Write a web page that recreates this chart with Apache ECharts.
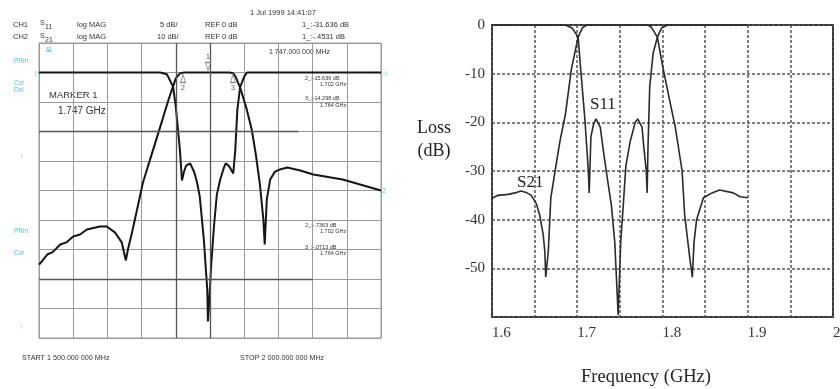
<!DOCTYPE html>
<html>
<head>
<meta charset="utf-8">
<script src="https://cdn.jsdelivr.net/npm/echarts@6/dist/echarts.min.js"></script>
<style>
html, body { margin: 0; padding: 0; background: #fff; }
#chart { width: 840px; height: 389px; }
</style>
</head>
<body>
<div id="chart"></div>
<script>
// left panel: network analyzer trace, 1.5 - 2.0 GHz
var leftS11Freq = [1.500, 1.677, 1.687, 1.696, 1.700, 1.706, 1.709, 1.712, 1.715, 1.721, 1.727, 1.731, 1.735, 1.741, 1.746, 1.747, 1.749, 1.752, 1.756, 1.760, 1.765, 1.771, 1.773, 1.778, 1.784, 1.787, 1.790, 1.794, 1.800, 1.804, 2.000];
var leftS11Db = [0, 0, -0.3, -2.4, -5.8, -13.1, -18.3, -16.8, -15.8, -15.4, -16.9, -18.6, -21.0, -28.3, -36.8, -42.2, -38.5, -32.2, -25.8, -20.7, -18.1, -15.9, -15.4, -15.9, -17.1, -13.1, -6.3, -2.5, -0.7, 0, 0];
var leftS21Freq = [1.500, 1.505, 1.512, 1.520, 1.531, 1.540, 1.550, 1.560, 1.570, 1.589, 1.599, 1.611, 1.621, 1.627, 1.630, 1.637, 1.652, 1.662, 1.677, 1.689, 1.696, 1.700, 1.706, 1.712, 1.779, 1.784, 1.788, 1.794, 1.803, 1.811, 1.817, 1.823, 1.828, 1.830, 1.833, 1.838, 1.845, 1.852, 1.863, 1.882, 1.901, 1.944, 2.000];
var leftS21Db = [-65.1, -63.8, -61.7, -60.9, -58.3, -57.6, -55.6, -54.9, -53.2, -52.2, -52.2, -54.2, -57.6, -63.7, -60.0, -53.2, -37.3, -29.8, -18.6, -9.5, -4.7, -2.0, -0.3, 0, 0, -0.3, -1.7, -5.1, -11.9, -19.3, -27.8, -38.0, -49.8, -58.3, -43.1, -36.3, -33.6, -32.9, -32.2, -33.2, -34.6, -36.3, -40.0];
var leftMarkerFreq = [1.747, 1.7105, 1.7836];
var leftMarkerNames = ['1', '2', '3'];

// right panel: redrawn plot, 1.6 - 2.0 GHz
var rightS21Freq = [1.600, 1.607, 1.619, 1.627, 1.634, 1.640, 1.646, 1.652, 1.656, 1.660, 1.662, 1.663, 1.666, 1.669, 1.674, 1.680, 1.686, 1.693, 1.701, 1.706, 1.711, 1.783, 1.787, 1.794, 1.801, 1.809, 1.815, 1.823, 1.826, 1.832, 1.835, 1.837, 1.840, 1.848, 1.858, 1.867, 1.883, 1.891, 1.900];
var rightS21Db = [-35.6, -35.0, -34.8, -34.5, -34.1, -34.4, -35.0, -36.7, -39.1, -43.0, -46.6, -51.8, -46.6, -35.5, -30.0, -23.6, -18.5, -9.2, -2.5, -0.6, 0, 0, -0.5, -2.5, -9.2, -16.0, -21.0, -30.0, -39.0, -47.9, -51.8, -44.6, -40.0, -35.5, -34.5, -33.9, -34.5, -35.3, -35.5];
var rightS11Freq = [1.600, 1.686, 1.694, 1.701, 1.704, 1.709, 1.713, 1.714, 1.716, 1.719, 1.722, 1.727, 1.730, 1.734, 1.740, 1.744, 1.748, 1.751, 1.754, 1.757, 1.762, 1.768, 1.771, 1.776, 1.778, 1.781, 1.782, 1.783, 1.785, 1.789, 1.794, 1.799, 1.806, 1.900];
var rightS11Db = [0, 0, -0.6, -2.5, -9.0, -19.5, -30.0, -34.5, -23.0, -20.5, -19.3, -21.0, -25.0, -30.0, -37.0, -44.6, -59.6, -44.6, -37.0, -29.0, -24.0, -20.0, -19.3, -21.0, -25.0, -30.0, -34.5, -25.0, -12.7, -5.8, -2.5, -0.6, 0, 0];

var rightXTicks = ['1.6', '1.7', '1.8', '1.9', '2'];
var rightYTicks = ['0', '-10', '-20', '-30', '-40', '-50', ''];

function zip(a, b) {
	return a.map(function (v, i) { return [v, b[i]]; });
}

var sans = '"Liberation Sans", Arial, sans-serif';
var serif = '"Liberation Serif", "Times New Roman", serif';
var cyan = '#49c6d6';

function txt(x, y, s, size, color, family, align) {
	return {
		type: 'text', x: x, y: y, silent: true,
		style: {
			text: s, fill: color || '#333',
			font: size + 'px ' + (family || sans),
			align: align || 'left', verticalAlign: 'middle'
		}
	};
}

var texts = [
	txt(250, 13, '1 Jul 1999 14:41:07', 7.5),
	txt(13, 25, 'CH1', 7.5), txt(40, 23, 'S', 7), txt(45, 27, '11', 7),
	txt(77, 25, 'log MAG', 7.5), txt(160, 25, '5 dB/', 7.5), txt(205, 25, 'REF 0 dB', 7.5),
	txt(302, 25, '1_:-31.636 dB', 7.5),
	txt(13, 37, 'CH2', 7.5), txt(40, 36, 'S', 7), txt(45, 40, '21', 7),
	txt(77, 37, 'log MAG', 7.5), txt(157, 37, '10 dB/', 7.5), txt(205, 37, 'REF 0 dB', 7.5),
	txt(302, 37, '1_:-.4531 dB', 7.5),
	txt(269, 52, '1 747.000 000 MHz', 7),
	txt(305, 78, '2_:-15.636 dB', 5.5), txt(320, 84, '1.702 GHz', 5.5),
	txt(305, 98, '3_:-14.298 dB', 5.5), txt(320, 105, '1.764 GHz', 5.5),
	txt(305, 225, '2_:-.7363 dB', 5.5), txt(320, 231, '1.702 GHz', 5.5),
	txt(305, 247, '3_:-.0713 dB', 5.5), txt(320, 253, '1.764 GHz', 5.5),
	txt(49, 95, 'MARKER 1', 9.5), txt(58, 111, '1.747 GHz', 10),
	txt(22, 358, 'START 1 500.000 000 MHz', 7.2), txt(240, 358, 'STOP 2 000.000 000 MHz', 7.2),
	txt(46, 50, '⊠', 7, cyan),
	txt(14, 61, 'PRm', 6.5, cyan), txt(14, 83, 'Cor', 6.5, cyan), txt(14, 90, 'Del', 6.5, cyan),
	txt(20, 157, '↑', 6.5, cyan), txt(14, 231, 'PRm', 6.5, cyan), txt(14, 253, 'Cor', 6.5, cyan),
	txt(20, 327, '↑', 6.5, cyan),
	txt(35, 73, '▷', 6, cyan), txt(382, 73, '◁', 6, cyan), txt(382, 191, '2', 6.5, cyan),
	txt(434, 128, 'Loss', 18, '#222', serif, 'center'),
	txt(434, 151, '(dB)', 18, '#222', serif, 'center'),
	txt(646, 377, 'Frequency (GHz)', 18.5, '#222', serif, 'center'),
	txt(590, 105, 'S11', 17, '#222', serif),
	txt(517, 183, 'S21', 17, '#222', serif)
];

// small analyzer marker flags sitting on the 0 dB trace
var markerPoints = leftMarkerFreq.map(function (f, i) {
	var up = i === 0;
	return {
		coord: [f, 0], value: leftMarkerNames[i],
		symbolRotate: up ? 180 : 0,
		symbolOffset: [0, up ? -6 : 6],
		label: { position: up ? 'top' : 'bottom', distance: 1 }
	};
});

var chart = echarts.init(document.getElementById('chart'));
var option = {
	animation: false,
	backgroundColor: '#fff',
	grid: [
		{ left: 39, top: 43, width: 342, height: 295, show: true, borderColor: '#9a9a9a', borderWidth: 1, outerBoundsMode: 'none' },
		{ left: 492, top: 25, width: 341, height: 292, show: true, borderColor: '#333', borderWidth: 2, outerBoundsMode: 'none' }
	],
	xAxis: [{
		gridIndex: 0, type: 'value', min: 1.5, max: 2.0, interval: 0.05,
		axisLabel: { show: false }, axisTick: { show: false }, axisLine: { show: false },
		splitLine: { lineStyle: { color: '#9a9a9a', width: 1 } }
	}, {
		gridIndex: 1, type: 'value', min: 1.6, max: 2.0, interval: 0.05,
		axisTick: { show: false }, axisLine: { show: false },
		axisLabel: {
			margin: 9, color: '#333', fontFamily: serif, fontSize: 15, align: 'left',
			formatter: function (v) {
				var k = Math.round((v - 1.6) / 0.05);
				return k % 2 === 0 ? rightXTicks[k / 2] : '';
			}
		},
		splitLine: { lineStyle: { color: '#555', width: 1.5, type: [3, 2] } }
	}],
	yAxis: [{
		gridIndex: 0, type: 'value', min: -45, max: 5, interval: 5,
		axisLabel: { show: false }, axisTick: { show: false }, axisLine: { show: false },
		splitLine: { lineStyle: { color: '#9a9a9a', width: 1 } }
	}, {
		gridIndex: 0, type: 'value', min: -90, max: 10, interval: 10,
		axisLabel: { show: false }, axisTick: { show: false }, axisLine: { show: false },
		splitLine: { show: false }
	}, {
		gridIndex: 1, type: 'value', min: -60, max: 0, interval: 10,
		axisTick: { show: false }, axisLine: { show: false },
		axisLabel: {
			margin: 7, color: '#333', fontFamily: serif, fontSize: 15,
			formatter: function (v) { return rightYTicks[Math.round(-v / 10)]; }
		},
		splitLine: { lineStyle: { color: '#555', width: 1.5, type: [3, 2] } }
	}],
	series: [{
		name: 'S11', type: 'line', xAxisIndex: 0, yAxisIndex: 0,
		data: zip(leftS11Freq, leftS11Db), showSymbol: false,
		lineStyle: { color: '#151515', width: 2 },
		markLine: {
			silent: true, symbol: 'none', label: { show: false },
			lineStyle: { color: '#555', width: 1.3, type: 'solid' },
			data: [
				[{ coord: [1.5, -10] }, { coord: [1.879, -10] }],
				[{ coord: [1.5, -35] }, { coord: [1.9, -35] }],
				[{ coord: [1.7, 5] }, { coord: [1.7, -45] }],
				[{ coord: [1.75, 5] }, { coord: [1.75, -45] }]
			]
		},
		markPoint: {
			silent: true, symbol: 'triangle', symbolSize: [5, 8],
			itemStyle: { color: '#fff', borderColor: '#8a8a8a', borderWidth: 1 },
			label: { color: '#555', fontSize: 7, fontFamily: sans, formatter: '{c}' },
			data: markerPoints
		}
	}, {
		name: 'S21', type: 'line', xAxisIndex: 0, yAxisIndex: 1,
		data: zip(leftS21Freq, leftS21Db), showSymbol: false,
		lineStyle: { color: '#151515', width: 2 }
	}, {
		name: 'S21 ', type: 'line', xAxisIndex: 1, yAxisIndex: 2,
		data: zip(rightS21Freq, rightS21Db), showSymbol: false,
		lineStyle: { color: '#2a2a2a', width: 1.6 }
	}, {
		name: 'S11 ', type: 'line', xAxisIndex: 1, yAxisIndex: 2,
		data: zip(rightS11Freq, rightS11Db), showSymbol: false,
		lineStyle: { color: '#2a2a2a', width: 1.6 }
	}],
	graphic: texts
};
chart.setOption(option);
window.addEventListener('resize', function () {
	chart.resize();
});
</script>
</body>
</html>
